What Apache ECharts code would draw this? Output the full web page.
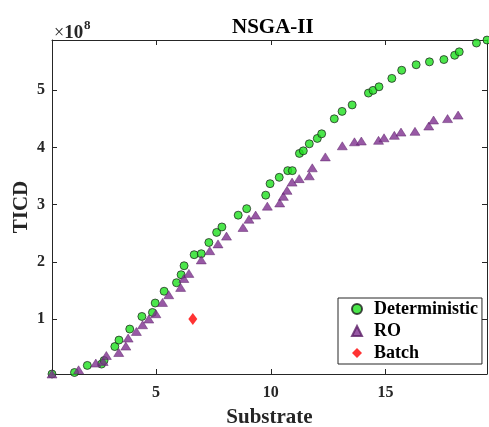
<!DOCTYPE html>
<html>
<head>
<meta charset="utf-8">
<script src="https://cdn.jsdelivr.net/npm/echarts@6/dist/echarts.min.js"></script>
<style>
  html, body { margin: 0; padding: 0; background: #fff; }
  #chart { width: 489px; height: 427px; }
</style>
</head>
<body>
<div id="chart"></div>
<script>
// Pareto fronts (substrate vs. TICD) from NSGA-II
const detSubstrate = [0.46, 1.44, 2.00, 2.62, 2.73, 3.20, 3.38, 3.85, 4.38, 4.84, 4.96, 5.35, 5.89, 6.09, 6.22, 6.66, 6.97, 7.30, 7.64, 7.87, 8.58, 8.95, 9.78, 9.97, 10.37, 10.74, 10.94, 11.25, 11.42, 11.68, 12.03, 12.22, 12.77, 13.11, 13.55, 14.26, 14.46, 14.72, 15.28, 15.71, 16.34, 16.92, 17.55, 18.02, 18.22, 18.97, 19.43];
const detTicd = [0.04e8, 0.066e8, 0.19e8, 0.213e8, 0.276e8, 0.52e8, 0.633e8, 0.826e8, 1.046e8, 1.116e8, 1.281e8, 1.487e8, 1.636e8, 1.776e8, 1.933e8, 2.126e8, 2.143e8, 2.339e8, 2.516e8, 2.611e8, 2.817e8, 2.931e8, 3.167e8, 3.368e8, 3.479e8, 3.596e8, 3.596e8, 3.897e8, 3.942e8, 4.065e8, 4.159e8, 4.240e8, 4.502e8, 4.632e8, 4.745e8, 4.952e8, 4.999e8, 5.062e8, 5.209e8, 5.351e8, 5.447e8, 5.498e8, 5.538e8, 5.613e8, 5.673e8, 5.827e8, 5.879e8];

const roSubstrate = [0.46, 1.62, 2.37, 2.69, 2.83, 3.37, 3.68, 3.78, 4.14, 4.41, 4.68, 4.99, 5.28, 5.55, 6.07, 6.21, 6.43, 6.97, 7.34, 7.70, 8.07, 8.79, 9.05, 9.34, 9.85, 10.39, 10.55, 10.71, 10.93, 11.24, 11.68, 11.81, 12.38, 13.12, 13.65, 13.95, 14.70, 14.94, 15.39, 15.68, 16.29, 16.89, 17.10, 17.71, 18.17];
const roTicd = [0.04e8, 0.114e8, 0.231e8, 0.259e8, 0.364e8, 0.416e8, 0.528e8, 0.668e8, 0.784e8, 0.901e8, 1.001e8, 1.094e8, 1.291e8, 1.426e8, 1.554e8, 1.710e8, 1.799e8, 2.035e8, 2.196e8, 2.315e8, 2.451e8, 2.602e8, 2.747e8, 2.819e8, 2.975e8, 3.031e8, 3.146e8, 3.251e8, 3.395e8, 3.456e8, 3.505e8, 3.645e8, 3.836e8, 4.030e8, 4.100e8, 4.114e8, 4.126e8, 4.170e8, 4.213e8, 4.270e8, 4.283e8, 4.376e8, 4.481e8, 4.506e8, 4.567e8];

const batchSubstrate = [6.6];
const batchTicd = [1.0e8];

// axis extents and tick positions
const xRange = [0.46, 19.43];
const yRange = [0.04e8, 5.88e8];
const xTicks = [5, 10, 15];
const yTicks = [1e8, 2e8, 3e8, 4e8, 5e8];

const pairs = (xs, ys) => xs.map((x, i) => [x, ys[i]]);

const FONT = '"Liberation Serif", "DejaVu Serif", serif';
const AXIS_COLOR = '#262626';

const chart = echarts.init(document.getElementById('chart'), null, { renderer: 'canvas' });

const innerTicks = (values) => ({
  show: true,
  inside: true,
  length: 5,
  customValues: values,
  lineStyle: { color: AXIS_COLOR, width: 1 }
});

chart.setOption({
  backgroundColor: '#fff',
  animation: false,
  title: {
    text: 'NSGA-II',
    left: 227,
    top: 12,
    textStyle: { fontFamily: FONT, fontWeight: 'bold', fontSize: 21, color: '#000' }
  },
  // exponent of the TICD axis
  graphic: [{
    type: 'text',
    left: 54,
    top: 24,
    style: {
      text: '{m|×}{d|10}',
      rich: {
        m: { fontFamily: FONT, fontSize: 18, fill: AXIS_COLOR },
        d: { fontFamily: FONT, fontSize: 19, fontWeight: 'bold', fill: AXIS_COLOR }
      }
    }
  }, {
    type: 'text',
    left: 84,
    top: 19,
    style: { text: '8', fontFamily: FONT, fontSize: 13, fontWeight: 'bold', fill: AXIS_COLOR }
  }],
  legend: {
    orient: 'vertical',
    left: 338,
    top: 298,
    backgroundColor: '#fff',
    borderColor: '#262626',
    borderWidth: 1,
    padding: [2, 4, 2, 13],
    itemWidth: 10,
    itemHeight: 10,
    itemGap: 4,
    textStyle: {
      fontFamily: FONT, fontWeight: 'bold', fontSize: 18, color: '#000',
      lineHeight: 18, padding: [0, 0, 0, 7]
    },
    data: ['Deterministic', 'RO', 'Batch']
  },
  grid: { left: 52, right: 2, top: 40, bottom: 53, outerBoundsMode: 'none', containLabel: false },
  xAxis: [{
    type: 'value',
    min: xRange[0], max: xRange[1],
    name: 'Substrate',
    nameLocation: 'middle',
    nameGap: 33,
    nameMoveOverlap: false,
    nameTextStyle: { fontFamily: FONT, fontWeight: 'bold', fontSize: 21, color: '#262626' },
    axisLine: { show: true, lineStyle: { color: AXIS_COLOR, width: 1 } },
    axisTick: innerTicks(xTicks),
    axisLabel: {
      customValues: xTicks,
      margin: 11,
      fontFamily: FONT, fontWeight: 'bold', fontSize: 16, color: '#262626'
    },
    splitLine: { show: false }
  }, {
    type: 'value',
    position: 'top',
    min: xRange[0], max: xRange[1],
    axisLine: { show: true, lineStyle: { color: AXIS_COLOR, width: 1 } },
    axisTick: innerTicks(xTicks),
    axisLabel: { show: false },
    splitLine: { show: false }
  }],
  yAxis: [{
    type: 'value',
    min: yRange[0], max: yRange[1],
    name: 'TICD',
    nameLocation: 'middle',
    nameGap: 20,
    nameMoveOverlap: false,
    nameTextStyle: { fontFamily: FONT, fontWeight: 'bold', fontSize: 21, color: '#262626' },
    axisLine: { show: true, lineStyle: { color: AXIS_COLOR, width: 1 } },
    axisTick: innerTicks(yTicks),
    axisLabel: {
      customValues: yTicks,
      margin: 7,
      formatter: v => String(Math.round(v / 1e8)),
      fontFamily: FONT, fontWeight: 'bold', fontSize: 16, color: '#262626'
    },
    splitLine: { show: false }
  }, {
    type: 'value',
    position: 'right',
    min: yRange[0], max: yRange[1],
    axisLine: { show: true, lineStyle: { color: AXIS_COLOR, width: 1 } },
    axisTick: innerTicks(yTicks),
    axisLabel: { show: false },
    splitLine: { show: false }
  }],
  series: [{
    name: 'Deterministic',
    type: 'scatter',
    clip: false,
    symbol: 'circle',
    symbolSize: 8,
    itemStyle: { color: '#1ee01e', borderColor: '#1a1a1a', borderWidth: 0.9 },
    data: pairs(detSubstrate, detTicd)
  }, {
    name: 'RO',
    type: 'scatter',
    clip: false,
    symbol: 'triangle',
    symbolSize: [10, 8],
    itemStyle: { color: '#7e2f8e', borderColor: '#5c2168', borderWidth: 0.6 },
    data: pairs(roSubstrate, roTicd)
  }, {
    name: 'Batch',
    type: 'scatter',
    clip: false,
    symbol: 'diamond',
    symbolSize: [9, 12],
    itemStyle: { color: '#ff0000' },
    data: pairs(batchSubstrate, batchTicd)
  }]
});
</script>
</body>
</html>
